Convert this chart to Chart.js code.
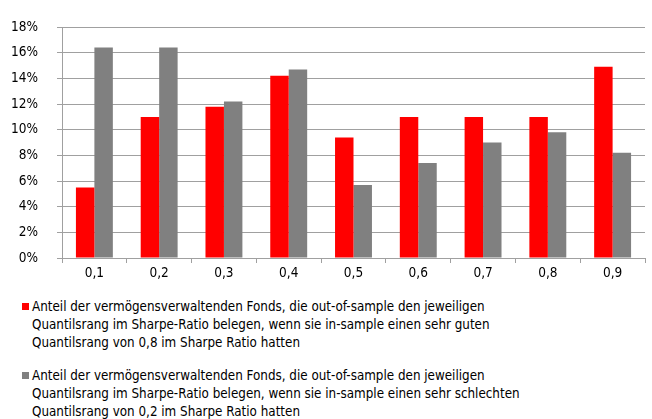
<!DOCTYPE html>
<html>
<head>
<meta charset="utf-8">
<script src="https://cdn.jsdelivr.net/npm/chart.js@4"></script>
<style>
  body { margin: 0; background: #fff; width: 652px; height: 419px; overflow: hidden; }
  #wrap { position: relative; width: 652px; height: 290px; }
  #legend { font-family: "DejaVu Sans Condensed", "DejaVu Sans", sans-serif; font-size: 13.3px; line-height: 18px; color: #000; }
  .item { position: absolute; left: 32px; width: 620px; }
  .box { position: absolute; left: -10px; top: 5px; width: 7px; height: 7px; }
</style>
</head>
<body>
<div id="wrap"><canvas id="chart" width="652" height="290"></canvas></div>
<div id="legend"></div>
<script>
let categories = ["0,1", "0,2", "0,3", "0,4", "0,5", "0,6", "0,7", "0,8", "0,9"];
let goodFunds = [5.5, 11.0, 11.8, 14.2, 9.4, 11.0, 11.0, 11.0, 14.9];
let badFunds = [16.4, 16.4, 12.2, 14.7, 5.7, 7.4, 9.0, 9.8, 8.2];
let seriesLabels = [
    ["Anteil der vermögensverwaltenden Fonds, die out-of-sample den jeweiligen",
     "Quantilsrang im Sharpe-Ratio belegen, wenn sie in-sample einen sehr guten",
     "Quantilsrang von 0,8 im Sharpe Ratio hatten"],
    ["Anteil der vermögensverwaltenden Fonds, die out-of-sample den jeweiligen",
     "Quantilsrang im Sharpe-Ratio belegen, wenn sie in-sample einen sehr schlechten",
     "Quantilsrang von 0,2 im Sharpe Ratio hatten"]
];
let colors = ["#FF0000", "#808080"];

let font = { family: "DejaVu Sans Condensed, DejaVu Sans, sans-serif", size: 13.5 };

let chart = new Chart(document.getElementById("chart").getContext("2d"), {
    type: 'bar',
    data: {
        labels: categories,
        datasets: [
            { data: goodFunds, backgroundColor: colors[0] },
            { data: badFunds, backgroundColor: colors[1] }
        ]
    },
    options: {
        responsive: false,
        animation: false,
        layout: { padding: { top: 17, right: 7 } },
        plugins: { legend: { display: false }, tooltip: { enabled: false } },
        datasets: { bar: { categoryPercentage: 0.57, barPercentage: 1 } },
        scales: {
            x: {
                grid: { offset: true, drawOnChartArea: false, color: '#a0a0a0', tickLength: 5 },
                border: { color: '#a0a0a0' },
                ticks: { color: '#000', font: font, padding: 2 },
                afterFit: function (scale) { scale.height = 32; }
            },
            y: {
                min: 0, max: 18,
                grid: { color: '#a0a0a0', tickLength: 5 },
                border: { color: '#a0a0a0' },
                ticks: { stepSize: 2, color: '#000', font: font, padding: 19,
                         callback: function (v) { return v + '%'; } },
                afterFit: function (scale) { scale.width = 62; }
            }
        }
    }
});

let legend = document.getElementById("legend");
let tops = [298, 367];
seriesLabels.forEach(function (lines, i) {
    let item = document.createElement("div");
    item.className = "item";
    item.style.top = tops[i] + "px";
    item.innerHTML = '<span class="box" style="background:' + colors[i] + '"></span>' + lines.join("<br>");
    legend.appendChild(item);
});
</script>
</body>
</html>
